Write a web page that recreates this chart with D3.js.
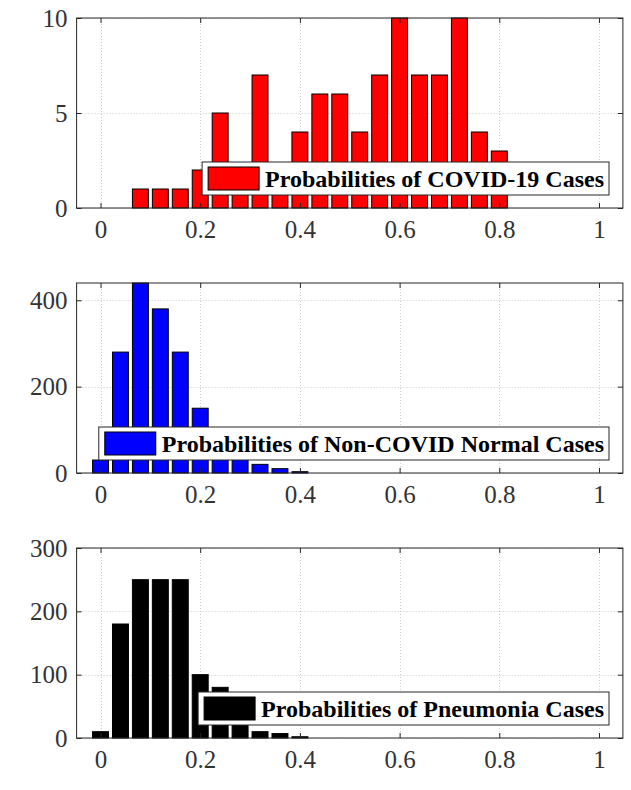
<!DOCTYPE html>
<html>
<head>
<meta charset="utf-8">
<script src="https://cdn.jsdelivr.net/npm/d3@7/dist/d3.min.js"></script>
<style>
  html, body { margin: 0; padding: 0; background: #fff; }
  svg { display: block; }
</style>
</head>
<body>
<svg id="chart" width="631" height="790"></svg>
<script>
// Histogram bin centres shared by all three panels
const binCenters = [0, 0.04, 0.08, 0.12, 0.16, 0.20, 0.24, 0.28, 0.32, 0.36, 0.40, 0.44, 0.48,
                    0.52, 0.56, 0.60, 0.64, 0.68, 0.72, 0.76, 0.80, 0.84, 0.88, 0.92, 0.96, 1.00];

// Counts per bin
const covidCounts     = [0, 0, 1, 1, 1, 2, 5, 2, 7, 2, 4, 6, 6, 4, 7, 10, 7, 7, 10, 4, 3, 0, 0, 0, 0, 0];
const normalCounts    = [30, 280, 440, 380, 280, 150, 80, 50, 20, 10, 3, 0, 0, 0, 0, 0, 0, 0, 0, 0, 0, 0, 0, 0, 0, 0];
const pneumoniaCounts = [10, 180, 250, 250, 250, 100, 80, 40, 10, 7, 2, 0, 0, 0, 0, 0, 0, 0, 0, 0, 0, 0, 0, 0, 0, 0];

// Axis ticks
const xTicks = [0, 0.2, 0.4, 0.6, 0.8, 1];
const xTickLabels = ["0", "0.2", "0.4", "0.6", "0.8", "1"];
const covidYTicks = [0, 5, 10];
const normalYTicks = [0, 200, 400];
const pneumoniaYTicks = [0, 100, 200, 300];

// Axis limits
const xLimits = [-0.048, 1.048];
const covidYMax = 10;
const normalYMax = 440;
const pneumoniaYMax = 300;

// Legend labels
const legendLabels = [
  "Probabilities of COVID-19 Cases",
  "Probabilities of Non-COVID Normal Cases",
  "Probabilities of Pneumonia Cases"
];

const panels = [
  { counts: covidCounts, yTicks: covidYTicks, yMax: covidYMax, color: "#ff0000", label: legendLabels[0], top: 18 },
  { counts: normalCounts, yTicks: normalYTicks, yMax: normalYMax, color: "#0000ff", label: legendLabels[1], top: 283 },
  { counts: pneumoniaCounts, yTicks: pneumoniaYTicks, yMax: pneumoniaYMax, color: "#000000", label: legendLabels[2], top: 548 }
];

const svg = d3.select("#chart");
const left = 76.6, right = 622.9, plotH = 190;
const barFrac = 0.8, binWidth = 0.04;
const serifFont = '"Liberation Serif", "Times New Roman", serif';
const axisColor = "#262626";
const tickFontSize = 25;

const x = d3.scaleLinear().domain(xLimits).range([left, right]);

panels.forEach((p, i) => {
  const y = d3.scaleLinear().domain([0, p.yMax]).range([p.top + plotH, p.top]);
  const g = svg.append("g");
  const clipId = "clip" + i;

  g.append("clipPath").attr("id", clipId)
    .append("rect")
    .attr("x", left).attr("y", p.top - 1)
    .attr("width", right - left).attr("height", plotH + 2);

  // dotted grid
  const grid = g.append("g").attr("stroke", "#cccccc").attr("stroke-width", 1)
    .attr("stroke-dasharray", "1,2");
  grid.selectAll("line.gx").data(xTicks).join("line")
    .attr("x1", d => Math.round(x(d)) + 0.5).attr("x2", d => Math.round(x(d)) + 0.5)
    .attr("y1", p.top).attr("y2", p.top + plotH);
  grid.selectAll("line.gy").data(p.yTicks).join("line")
    .attr("x1", left).attr("x2", right)
    .attr("y1", d => Math.round(y(d)) + 0.5).attr("y2", d => Math.round(y(d)) + 0.5);

  // bars
  g.append("g").attr("clip-path", `url(#${clipId})`)
    .selectAll("rect").data(binCenters.map((c, k) => ({ c, v: p.counts[k] }))).join("rect")
    .attr("x", d => x(d.c - barFrac * binWidth / 2))
    .attr("width", d => x(d.c + barFrac * binWidth / 2) - x(d.c - barFrac * binWidth / 2))
    .attr("y", d => y(d.v))
    .attr("height", d => y(0) - y(d.v))
    .attr("fill", p.color)
    .attr("stroke", "#000")
    .attr("stroke-width", 1);

  // axes with inward ticks on all four sides
  const tickLen = 5;
  const xb = g.append("g").attr("transform", `translate(0,${p.top + plotH})`)
    .call(d3.axisBottom(x).tickValues(xTicks).tickFormat((d, k) => xTickLabels[k])
      .tickSize(-tickLen).tickPadding(12));
  const xt = g.append("g").attr("transform", `translate(0,${p.top})`)
    .call(d3.axisTop(x).tickValues(xTicks).tickFormat("").tickSize(-tickLen));
  const yl = g.append("g").attr("transform", `translate(${left},0)`)
    .call(d3.axisLeft(y).tickValues(p.yTicks).tickFormat(d3.format("d"))
      .tickSize(-tickLen).tickPadding(9));
  const yr = g.append("g").attr("transform", `translate(${right},0)`)
    .call(d3.axisRight(y).tickValues(p.yTicks).tickFormat("").tickSize(-tickLen));

  [xb, xt, yl, yr].forEach(a => {
    a.select(".domain").remove();
    a.attr("font-family", serifFont).attr("font-size", tickFontSize);
    a.selectAll(".tick line").attr("stroke", axisColor).attr("stroke-width", 1);
    a.selectAll(".tick text").attr("fill", "#333");
  });
  xb.selectAll(".tick text").attr("dy", "0.71em");
  yl.selectAll(".tick text").attr("dy", "0.33em");

  // axes box
  g.append("rect")
    .attr("x", left).attr("y", p.top)
    .attr("width", right - left).attr("height", plotH)
    .attr("fill", "none").attr("stroke", axisColor).attr("stroke-width", 1);

  // legend, anchored to the right side of the panel
  const lg = g.append("g");
  const lgRight = 609, lgTop = p.top + 144, lgH = 33;
  const txt = lg.append("text")
    .attr("y", lgTop + lgH / 2)
    .attr("dy", "0.35em")
    .attr("fill", "#000")
    .attr("font-family", serifFont)
    .attr("font-size", 24)
    .attr("font-weight", "bold")
    .text(p.label);
  const tw = txt.node().getComputedTextLength();
  const swW = 51, swH = 23, pad = 6, gap = 6, padR = 5;
  const lgW = pad + swW + gap + tw + padR;
  const lgLeft = lgRight - lgW;
  lg.insert("rect", "text")
    .attr("x", lgLeft).attr("y", lgTop)
    .attr("width", lgW).attr("height", lgH)
    .attr("fill", "#fff").attr("stroke", axisColor).attr("stroke-width", 1);
  lg.insert("rect", "text")
    .attr("x", lgLeft + pad).attr("y", lgTop + (lgH - swH) / 2)
    .attr("width", swW).attr("height", swH)
    .attr("fill", p.color).attr("stroke", "#000").attr("stroke-width", 1);
  txt.attr("x", lgLeft + pad + swW + gap);
});
</script>
</body>
</html>
